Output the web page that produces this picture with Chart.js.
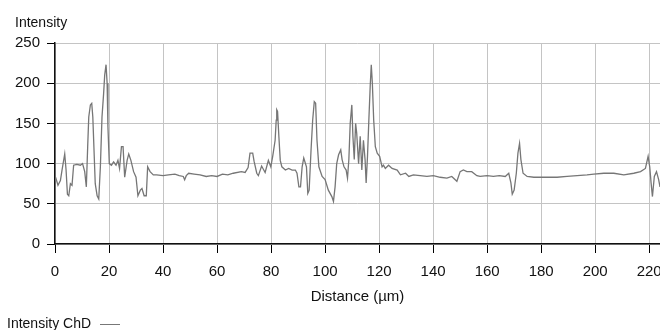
<!DOCTYPE html>
<html>
<head>
<meta charset="utf-8">
<script src="https://cdn.jsdelivr.net/npm/chart.js@4/dist/chart.umd.min.js"></script>
<style>
    body { margin: 0; background: #fff; }
    #wrap { position: relative; width: 660px; height: 330px; font-family: 'Liberation Sans', Arial, sans-serif; color: #111; }
    #yTitle { position: absolute; left: 15px; top: 15px; font-size: 14px; line-height: 14px; }
    #legend { position: absolute; left: 7px; top: 316px; font-size: 14px; line-height: 14px; white-space: nowrap; }
    #legend span { display: inline-block; width: 20px; border-top: 1px solid #777; vertical-align: middle; margin-left: 9px; }
</style>
</head>
<body>
<div id="wrap">
    <canvas id="profileChart" width="660" height="330"></canvas>
    <div id="yTitle">Intensity</div>
    <div id="legend">Intensity ChD<span></span></div>
</div>
<script>
const distances = [
    0, 0.4, 1.1, 2.0, 2.6, 3.6, 4.1, 4.6, 5.1, 5.7, 6.3, 6.9, 8.1, 9.4, 10.2, 11.0, 11.6, 12.1, 12.5, 13.1,
    13.6, 14.0, 14.4, 14.9, 15.6, 16.2, 16.8, 17.4, 18.0, 18.4, 18.9, 19.3, 19.6, 20.1, 20.9, 21.7, 22.6, 23.3, 23.9, 24.6,
    25.2, 25.8, 26.7, 27.3, 28.1, 29.1, 30.0, 30.7, 31.6, 32.2, 33.0, 33.8, 34.3, 35.2, 36.4, 37.6, 40, 42, 44.4, 46,
    47.5, 48, 48.6, 49.5, 51.5, 53.7, 56, 58, 60, 62, 64, 66, 69, 70.4, 71.5, 72.2, 73.2, 73.7, 74.7, 75.3,
    76.5, 77.8, 79.0, 79.9, 80.6, 81.5, 81.9, 82.1, 82.4, 82.9, 83.4, 84.0, 85.3, 86.5, 87.8, 89.0, 89.6, 90.3, 90.9, 91.5,
    92.1, 93.1, 93.6, 94.1, 94.8, 95.4, 96.0, 96.5, 97.0, 97.7, 98.9, 100.0, 101.2, 102.5, 103.1, 103.7, 104.3, 105.0, 105.8, 106.3,
    107.0, 107.8, 108.3, 108.8, 109.3, 109.9, 110.3, 110.8, 111.3, 111.7, 112.4, 113.0, 113.6, 114.2, 114.8, 115.2, 115.7, 116.2, 116.7, 117.1,
    117.5, 118.0, 118.6, 119.3, 120.2, 121.1, 121.6, 122.3, 123.5, 124.8, 126.7, 127.9, 129.8, 131.0, 132.7, 135.2, 137.7, 140.1, 142.6, 145.1,
    146.9, 148.8, 150.0, 151.2, 152.5, 154.3, 156.2, 157.4, 160, 162.3, 164.5, 166.7, 168.0, 168.8, 169.3, 170.0, 170.8, 171.4, 172.0, 172.5,
    173.3, 174.8, 177.3, 179.8, 182.2, 185.9, 189.6, 193.3, 197.0, 199.5, 203.2, 206.9, 210.6, 214.3, 216.8, 218.6, 219.6, 220.2, 220.7, 221.2,
    221.9, 222.7, 223.5, 224.0
];
const intensities = [
    78, 81, 73, 79, 92, 112, 92, 62, 60, 75, 73, 98, 99, 98, 100, 90, 71, 121, 158, 173,
    175, 158, 121, 75, 60, 56, 96, 158, 187, 210, 223, 200, 146, 100, 98, 102, 98, 104, 94, 121,
    121, 83, 104, 112, 104, 90, 83, 60, 67, 69, 60, 60, 96, 90, 86, 86, 85, 86, 87, 85,
    84, 80, 85, 88, 87, 86, 84, 85, 84, 87, 86, 88, 90, 89, 95, 113, 113, 103, 88, 85,
    97, 89, 104, 96, 109, 129, 154, 167, 165, 133, 104, 96, 92, 94, 92, 92, 88, 71, 71, 96,
    107, 96, 63, 67, 117, 154, 177, 175, 129, 96, 84, 80, 67, 59, 53, 71, 100, 111, 117, 105,
    96, 92, 82, 105, 150, 173, 134, 105, 150, 138, 100, 134, 92, 129, 105, 76, 109, 154, 196, 223,
    200, 154, 121, 113, 109, 96, 98, 94, 98, 94, 92, 86, 88, 84, 86, 85, 84, 85, 83, 82,
    84, 78, 90, 92, 90, 90, 85, 84, 85, 84, 85, 84, 88, 76, 62, 67, 88, 113, 125, 105,
    88, 84, 83, 83, 83, 83, 84, 85, 86, 87, 88, 88, 86, 88, 90, 94, 109, 96, 76, 59,
    84, 90, 80, 71
];
const xTicks = { min: 0, max: 224, step: 20 };
const yTicks = { min: 0, max: 250, step: 50 };

const tickFont = { family: "'Liberation Sans', Arial, sans-serif", size: 15 };

document.addEventListener('DOMContentLoaded', function() {
    const ctx = document.getElementById('profileChart').getContext('2d');
    new Chart(ctx, {
        type: 'line',
        data: {
            datasets: [{
                label: 'Intensity ChD',
                data: distances.map((d, i) => ({ x: d, y: intensities[i] })),
                borderColor: '#767676',
                borderWidth: 1.3,
                pointRadius: 0,
                tension: 0,
                fill: false
            }]
        },
        options: {
            responsive: false,
            animation: false,
            layout: { padding: { top: 43, left: 0, right: 0, bottom: 0 } },
            plugins: { legend: { display: false }, tooltip: { enabled: false } },
            scales: {
                x: {
                    type: 'linear',
                    min: xTicks.min,
                    max: xTicks.max,
                    afterFit: s => { s.height = 86; s.paddingLeft = 0; s.paddingRight = 0; },
                    ticks: { stepSize: xTicks.step, includeBounds: false, font: tickFont, color: '#111', padding: 10, maxRotation: 0 },
                    grid: { color: '#c4c4c4', lineWidth: 1, tickColor: '#000', tickLength: 9 },
                    border: { color: '#111', width: 1.5 },
                    title: { display: true, text: 'Distance (µm)', font: tickFont, color: '#111', padding: { top: 0, bottom: 24 } }
                },
                y: {
                    min: yTicks.min,
                    max: yTicks.max,
                    afterFit: s => { s.width = 55; },
                    ticks: { stepSize: yTicks.step, font: tickFont, color: '#111', padding: 7 },
                    grid: { color: '#c4c4c4', lineWidth: 1, tickColor: '#000', tickLength: 8 },
                    border: { color: '#111', width: 1.5 }
                }
            }
        }
    });
});
</script>
</body>
</html>
